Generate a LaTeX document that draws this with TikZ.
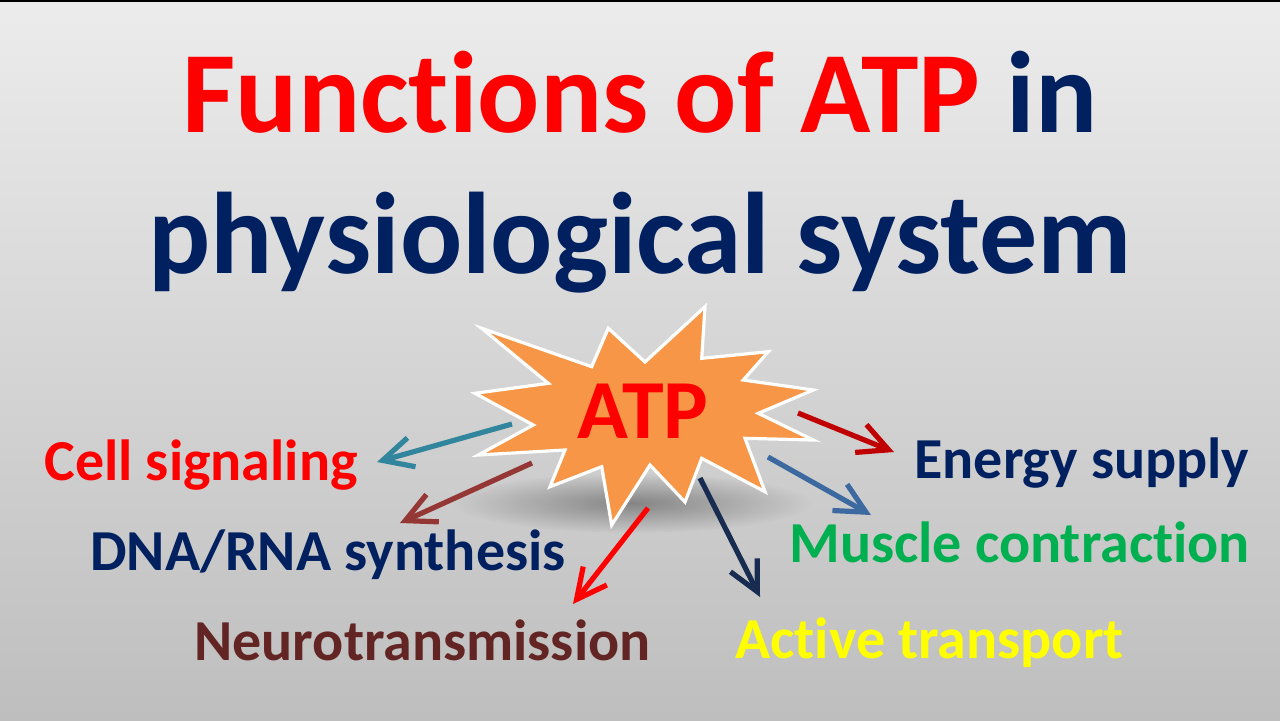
\documentclass[tikz,border=0pt]{standalone}
\usepackage{fontspec}
\setmainfont{Carlito}[Ligatures=NoCommon]
\usetikzlibrary{arrows.meta, positioning, calc, fadings}
\definecolor{bgtop}{RGB}{236,236,236}
\definecolor{bgbottom}{RGB}{190,190,190}
\definecolor{titlered}{RGB}{255,0,0}
\definecolor{navy}{RGB}{0,32,96}
\definecolor{starorange}{RGB}{247,150,70}
\definecolor{musclegreen}{RGB}{0,176,80}
\definecolor{neurobrown}{RGB}{99,37,35}
\definecolor{activeyellow}{RGB}{255,255,0}
\definecolor{arrteal}{RGB}{49,133,156}
\definecolor{arrbrown}{RGB}{149,55,53}
\definecolor{arrnavy}{RGB}{23,44,80}
\definecolor{arrblue}{RGB}{60,105,160}
\definecolor{arrdarkred}{RGB}{192,0,0}
\tikzfading[name=softshadow, inner color=transparent!0, outer color=transparent!100]

\begin{document}
\begin{tikzpicture}[x=0.5pt, y=-0.5pt,
  label/.style={anchor=base west, inner sep=0pt, font=\fontsize{29}{30}\selectfont\bfseries},
  title/.style={anchor=base, inner sep=0pt, font=\fontsize{58}{60}\selectfont\bfseries, navy},
  arr/.style={line width=2.6pt, -{Straight Barb[length=15pt, width=15pt]}}]
  \useasboundingbox (0,0) rectangle (1280,720);
  \shade[top color=bgtop, bottom color=bgbottom] (0,0) rectangle (1280,720);
  \draw[line width=1pt, black] (0,0.5) -- (1280,0.5);

  \node[title] (title1) at (640,132) {\textcolor{titlered}{Functions of ATP} in};
  \node[title] (title2) at (640,273) {physiological system};

  \fill[black, opacity=0.35, path fading=softshadow] (632,503) ellipse (180 and 30);

  \draw[fill=starorange, draw=white, line width=1.6pt, line join=miter]
    (481.7,328.3) -- (591.7,366.7) -- (608.3,328.3) -- (645,362) -- (705,306.7)
    -- (701.7,358.3) -- (768.3,351.7) -- (743.3,380) -- (813.3,390) -- (758.3,413.3)
    -- (813.3,440) -- (745,438.3) -- (765,491.7) -- (701.7,458.3) -- (685,502)
    -- (650,465) -- (611.7,525) -- (601.7,466.7) -- (550,486.7) -- (565,450)
    -- (478.3,455) -- (533.3,425) -- (475,393.3) -- (548.3,383.3) -- cycle;
  \node[anchor=base, inner sep=0pt, font=\fontsize{42}{44}\selectfont\bfseries, titlered] (atp) at (643,438) {ATP};

  \node[label, titlered] (cell) at (44,480) {Cell signaling};
  \node[label, navy] (dna) at (90,570) {DNA/RNA synthesis};
  \node[label, neurobrown] (neuro) at (194,660) {Neurotransmission};
  \node[label, activeyellow] (active) at (735,658) {Active transport};
  \node[label, musclegreen] (muscle) at (789,562) {Muscle contraction};
  \node[label, navy] (energy) at (914,478) {Energy supply};

  \coordinate (cellfrom) at (512,424);
  \coordinate (cellto) at (377,462);
  \coordinate (dnafrom) at (532,463);
  \coordinate (dnato) at (400,523);
  \coordinate (neurofrom) at (648,508);
  \coordinate (neuroto) at (573,604);
  \coordinate (activefrom) at (700,478);
  \coordinate (activeto) at (760,597);
  \coordinate (musclefrom) at (768,457);
  \coordinate (muscleto) at (871,515);
  \coordinate (energyfrom) at (798,413);
  \coordinate (energyto) at (894,452);

  \draw[arr, arrteal] (cellfrom) -- (cellto);
  \draw[arr, arrbrown] (dnafrom) -- (dnato);
  \draw[arr, red] (neurofrom) -- (neuroto);
  \draw[arr, arrnavy] (activefrom) -- (activeto);
  \draw[arr, arrblue] (musclefrom) -- (muscleto);
  \draw[arr, arrdarkred] (energyfrom) -- (energyto);
\end{tikzpicture}
\end{document}
